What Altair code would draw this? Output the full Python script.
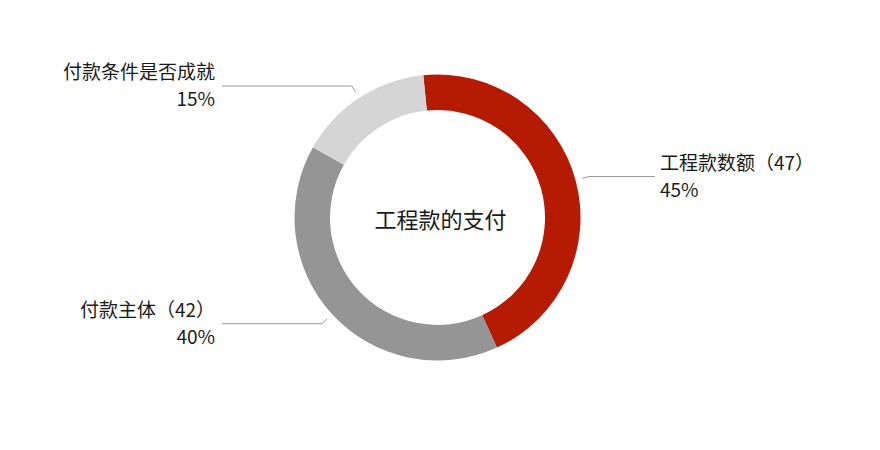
import math
import altair as alt
import pandas as pd

categories = ["工程款数额", "付款主体", "付款条件是否成就"]
values = [47, 42, 16]
name_labels = ["工程款数额（47）", "付款主体（42）", "付款条件是否成就"]
colors = ["#B51A03", "#959595", "#D6D5D6"]
center_title = "工程款的支付"

W, H = 864, 434
CX, CY = 429.5, 209.5
R_OUT, R_IN = 143, 107.5
START = math.radians(-5.7)
FONT = "Noto Sans CJK SC"

total = sum(values)
pct = [f"{round(v / total * 100)}%" for v in values]

pie_df = pd.DataFrame({"cat": categories, "value": values, "idx": list(range(len(values)))})

rows_line, rows_text = [], []
acc = 0
for i, v in enumerate(values):
    a0 = START + 2 * math.pi * acc / total
    acc += v
    a1 = START + 2 * math.pi * acc / total
    mid = (a0 + a1) / 2
    s, c = math.sin(mid), math.cos(mid)
    p1 = (CX + 150 * s, CY - 150 * c)
    p2 = (CX + 157 * s, CY - 157 * c)
    right = s > 0
    p3 = (647 if right else 214, p2[1])
    for k, p in enumerate([p1, p2, p3]):
        rows_line.append({"cat": categories[i], "k": k, "x": p[0], "y": p[1]})
    rows_text.append({
        "side": "right" if right else "left",
        "x": 652 if right else 207,
        "yn": p3[1] - 13,
        "yp": p3[1] + 14,
        "name": name_labels[i],
        "pct": pct[i],
    })

line_df = pd.DataFrame(rows_line)
text_df = pd.DataFrame(rows_text)

xs = alt.Scale(domain=[0, W], nice=False, zero=False)
ys = alt.Scale(domain=[0, H], nice=False, zero=False, reverse=True)

arc = alt.Chart(pie_df).mark_arc(outerRadius=R_OUT, innerRadius=R_IN).encode(
    theta=alt.Theta("value:Q", stack=True, scale=alt.Scale(range=[START, START + 2 * math.pi])),
    color=alt.Color("cat:N", scale=alt.Scale(domain=categories, range=colors), legend=None),
    order=alt.Order("idx:Q", sort="ascending"),
    x=alt.value(CX),
    y=alt.value(CY),
)

lines = alt.Chart(line_df).mark_line(color="#9a9a9a", strokeWidth=1).encode(
    x=alt.X("x:Q", scale=xs, axis=None),
    y=alt.Y("y:Q", scale=ys, axis=None),
    detail="cat:N",
    order="k:Q",
)

layers = [arc, lines]
for side in ["left", "right"]:
    sub = text_df[text_df["side"] == side]
    for ycol, tcol in [("yn", "name"), ("yp", "pct")]:
        layers.append(
            alt.Chart(sub).mark_text(
                align=side == "left" and "right" or "left",
                baseline="middle", fontSize=19, font=FONT, color="#1a1a1a",
            ).encode(
                x=alt.X("x:Q", scale=xs, axis=None),
                y=alt.Y(f"{ycol}:Q", scale=ys, axis=None),
                text=f"{tcol}:N",
            )
        )

title = alt.Chart(pd.DataFrame({"t": [center_title]})).mark_text(
    align="center", baseline="middle", fontSize=22, font=FONT, color="#1a1a1a"
).encode(text="t:N", x=alt.value(CX + 3), y=alt.value(CY + 3))
layers.append(title)

chart = alt.layer(*layers).properties(
    width=W, height=H, padding=0, autosize=alt.AutoSizeParams(type="none")
).configure_view(stroke=None)

chart.save("out.html", embed_options={"renderer": "svg", "actions": False})
